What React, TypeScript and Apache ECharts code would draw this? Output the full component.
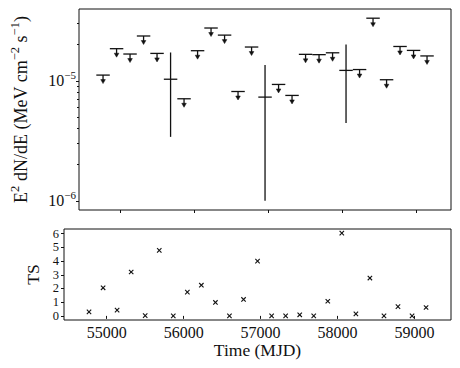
import React, { useEffect, useRef } from "react";
import * as echarts from "echarts";

// ---- data ----
const binHalfWidthDays = 91;

const ulMJD = [54770, 54953, 55135, 55318, 55500, 55865, 56048, 56230, 56413, 56595, 56778, 57143, 57325, 57508, 57690, 57873, 58238, 58420, 58603, 58785, 58968, 59150];
const ulFlux = [1.115e-5, 1.85e-5, 1.67e-5, 2.36e-5, 1.69e-5, 7.08e-6, 1.78e-5, 2.75e-5, 2.4e-5, 8.14e-6, 1.91e-5, 9.32e-6, 7.55e-6, 1.66e-5, 1.65e-5, 1.71e-5, 1.24e-5, 3.32e-5, 1.02e-5, 1.93e-5, 1.79e-5, 1.61e-5];

const detMJD = [55683, 56960, 58055];
const detFlux = [1.03e-5, 7.31e-6, 1.22e-5];
const detLow = [3.41e-6, 1.0e-6, 4.44e-6];
const detHigh = [1.72e-5, 1.35e-5, 2.0e-5];

const tsMJD = [54770, 54953, 55135, 55318, 55500, 55683, 55865, 56048, 56230, 56413, 56595, 56778, 56960, 57143, 57325, 57508, 57690, 57873, 58055, 58238, 58420, 58603, 58785, 58968, 59150];
const tsValues = [0.29, 2.05, 0.42, 3.2, 0.02, 4.78, 0, 1.73, 2.24, 0.98, 0, 1.2, 4.0, 0, 0, 0.08, 0, 1.07, 6.04, 0.15, 2.76, 0, 0.68, 0, 0.61];

const xTicks = [55000, 56000, 57000, 58000, 59000];
const fluxMajorTicks = [1e-6, 1e-5];
const fluxMinorTicks = [2e-6, 3e-6, 4e-6, 5e-6, 6e-6, 7e-6, 8e-6, 9e-6, 2e-5, 3e-5];
const tsTicks = [0, 1, 2, 3, 4, 5, 6];

const X_MIN = 54445;
const X_MAX = 59474;
const FLUX_MIN = 8.39e-7;
const FLUX_MAX = 3.96e-5;
const TS_MIN = -0.3;
const TS_MAX = 6.34;

const FONT = '"Liberation Serif", "DejaVu Serif", serif';
const INK = "#111";

export default function App() {
  const ref = useRef<HTMLDivElement>(null);

  useEffect(() => {
    document.body.style.margin = "0";
    document.body.style.overflow = "hidden";
    if (!ref.current) return;
    const chart = echarts.init(ref.current, undefined, { renderer: "svg" });

    const lw = 1.3;

    const option: any = {
      animation: false,
      textStyle: { fontFamily: FONT },
      grid: [
        { left: 64, right: 9, top: 9, height: 201, show: true, borderColor: INK, borderWidth: 1, backgroundColor: "transparent" },
        { left: 64, right: 9, top: 229, height: 91, show: true, borderColor: INK, borderWidth: 1, backgroundColor: "transparent" },
      ],
      xAxis: [
        {
          type: "value", gridIndex: 0, min: X_MIN, max: X_MAX,
          axisLine: { show: false }, splitLine: { show: false },
          axisTick: { show: true, length: 3, customValues: xTicks, lineStyle: { color: INK } },
          axisLabel: { show: false },
        },
        {
          type: "value", gridIndex: 1, min: X_MIN, max: X_MAX,
          axisLine: { show: false }, splitLine: { show: false },
          axisTick: { show: true, length: 3, customValues: xTicks, lineStyle: { color: INK } },
          axisLabel: {
            customValues: xTicks, fontSize: 16, color: INK, margin: 4, fontFamily: FONT,
            formatter: (v: number) => String(Math.round(v)),
          },
          name: "Time (MJD)", nameLocation: "middle", nameGap: 20,
          nameTextStyle: { fontSize: 17.5, color: INK, fontFamily: FONT },
        },
      ],
      yAxis: [
        {
          type: "log", logBase: 10, gridIndex: 0, min: FLUX_MIN, max: FLUX_MAX,
          axisLine: { show: false }, splitLine: { show: false },
          axisTick: { show: true, length: 3, customValues: fluxMajorTicks, lineStyle: { color: INK } },
          axisLabel: {
            customValues: fluxMajorTicks, fontSize: 16, color: INK, margin: 3, fontFamily: FONT,
            formatter: (v: number) => {
              const e = Math.round(Math.log10(v));
              return `10{s|\u2212${Math.abs(e)}}`;
            },
            rich: { s: { fontSize: 11, fontFamily: FONT, color: INK, padding: [0, 0, 11, 0] } },
          },
          name: "E{s|2} dN/dE (MeV cm{s|\u22122} s{s|\u22121})",
          nameLocation: "middle", nameGap: 46, nameRotate: 90,
          nameTextStyle: {
            fontSize: 18, color: INK, fontFamily: FONT,
            rich: { s: { fontSize: 12.5, fontFamily: FONT, color: INK, padding: [0, 0, 12, 0] } },
          },
        },
        {
          type: "log", logBase: 10, gridIndex: 0, position: "left", min: FLUX_MIN, max: FLUX_MAX,
          axisLine: { show: false }, splitLine: { show: false },
          axisTick: { show: true, length: 2, customValues: fluxMinorTicks, lineStyle: { color: INK } },
          axisLabel: { show: false },
        },
        {
          type: "value", gridIndex: 1, min: TS_MIN, max: TS_MAX,
          axisLine: { show: false }, splitLine: { show: false },
          axisTick: { show: true, length: 3, customValues: tsTicks, lineStyle: { color: INK } },
          axisLabel: { customValues: tsTicks, fontSize: 12.5, color: INK, margin: 5, fontFamily: FONT },
          name: "TS", nameLocation: "middle", nameGap: 21, nameRotate: 90,
          nameTextStyle: { fontSize: 17.5, color: INK, fontFamily: FONT },
        },
      ],
      series: [
        {
          type: "custom", xAxisIndex: 0, yAxisIndex: 0,
          data: ulMJD.map((m, i) => [m, ulFlux[i]]),
          encode: { x: 0, y: 1 },
          renderItem: (_p: any, api: any) => {
            const x = api.value(0), y = api.value(1);
            const pl = api.coord([x - binHalfWidthDays, y]);
            const pr = api.coord([x + binHalfWidthDays, y]);
            const pc = api.coord([x, y]);
            return {
              type: "group",
              children: [
                { type: "line", shape: { x1: pl[0], y1: pl[1], x2: pr[0], y2: pr[1] }, style: { stroke: INK, lineWidth: lw } },
                { type: "line", shape: { x1: pc[0], y1: pc[1], x2: pc[0], y2: pc[1] + 6 }, style: { stroke: INK, lineWidth: lw } },
                { type: "polygon", shape: { points: [[pc[0] - 2.3, pc[1] + 4.5], [pc[0] + 2.3, pc[1] + 4.5], [pc[0], pc[1] + 8.5]] }, style: { fill: INK, stroke: INK, lineWidth: 0.5 } },
              ],
            };
          },
        },
        {
          type: "custom", xAxisIndex: 0, yAxisIndex: 0,
          data: detMJD.map((m, i) => [m, detFlux[i], detLow[i], detHigh[i]]),
          encode: { x: 0, y: [1, 2, 3] },
          renderItem: (_p: any, api: any) => {
            const x = api.value(0), y = api.value(1);
            const pl = api.coord([x - binHalfWidthDays, y]);
            const pr = api.coord([x + binHalfWidthDays, y]);
            const lo = api.coord([x, api.value(2)]);
            const hi = api.coord([x, api.value(3)]);
            return {
              type: "group",
              children: [
                { type: "line", shape: { x1: pl[0], y1: pl[1], x2: pr[0], y2: pr[1] }, style: { stroke: INK, lineWidth: lw } },
                { type: "line", shape: { x1: lo[0], y1: lo[1], x2: hi[0], y2: hi[1] }, style: { stroke: INK, lineWidth: lw } },
              ],
            };
          },
        },
        {
          type: "custom", xAxisIndex: 1, yAxisIndex: 2,
          data: tsMJD.map((m, i) => [m, tsValues[i]]),
          encode: { x: 0, y: 1 },
          renderItem: (_p: any, api: any) => {
            const c = api.coord([api.value(0), api.value(1)]);
            const r = 2.2;
            return {
              type: "group",
              children: [
                { type: "line", shape: { x1: c[0] - r, y1: c[1] - r, x2: c[0] + r, y2: c[1] + r }, style: { stroke: INK, lineWidth: 1.1 } },
                { type: "line", shape: { x1: c[0] - r, y1: c[1] + r, x2: c[0] + r, y2: c[1] - r }, style: { stroke: INK, lineWidth: 1.1 } },
              ],
            };
          },
        },
      ],
    };

    chart.setOption(option);
    return () => chart.dispose();
  }, []);

  return <div ref={ref} style={{ width: 460, height: 368 }} />;
}
